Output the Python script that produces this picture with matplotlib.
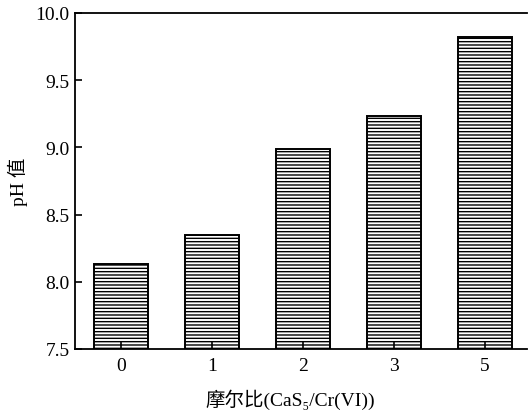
import matplotlib
matplotlib.use('Agg')
import matplotlib.pyplot as plt

plt.rcParams['font.family'] = ['Liberation Serif', 'Noto Sans CJK SC', 'DejaVu Serif']
plt.rcParams['hatch.linewidth'] = 1.0

ratios = ['0', '1', '2', '3', '5']
ph_values = [8.13, 8.35, 8.99, 9.23, 9.82]

fig = plt.figure(figsize=(5.28, 4.14), dpi=100)
ax = fig.add_axes([0.142, 0.1546, 0.856, 0.8116])

positions = list(range(len(ratios)))
ax.bar(positions, [v - 7.5 for v in ph_values], bottom=7.5, width=0.6,
       color='white', edgecolor='black', linewidth=1.4, hatch='-----')

ax.set_xlim(-0.505, 4.46)
ax.set_ylim(7.5, 10.0)
ax.set_xticks(positions)
ax.set_xticklabels(ratios)
ax.set_yticks([7.5, 8.0, 8.5, 9.0, 9.5, 10.0])
ax.set_yticklabels(['7.5', '8.0', '8.5', '9.0', '9.5', '10.0'])
ax.tick_params(direction='in', length=5, width=1.2, labelsize=14)
ax.tick_params(axis='x', pad=6)
ax.tick_params(axis='y', pad=4)

ax.spines['right'].set_visible(False)
for s in ['left', 'top', 'bottom']:
    ax.spines[s].set_linewidth(1.3)

ax.set_xlabel('摩尔比(CaS₅/Cr(VI))', fontsize=14, labelpad=10)
ax.xaxis.label.set_x(0.476)
ax.set_ylabel('pH 值', fontsize=14, labelpad=5)

fig.savefig('out.png', dpi=100)
